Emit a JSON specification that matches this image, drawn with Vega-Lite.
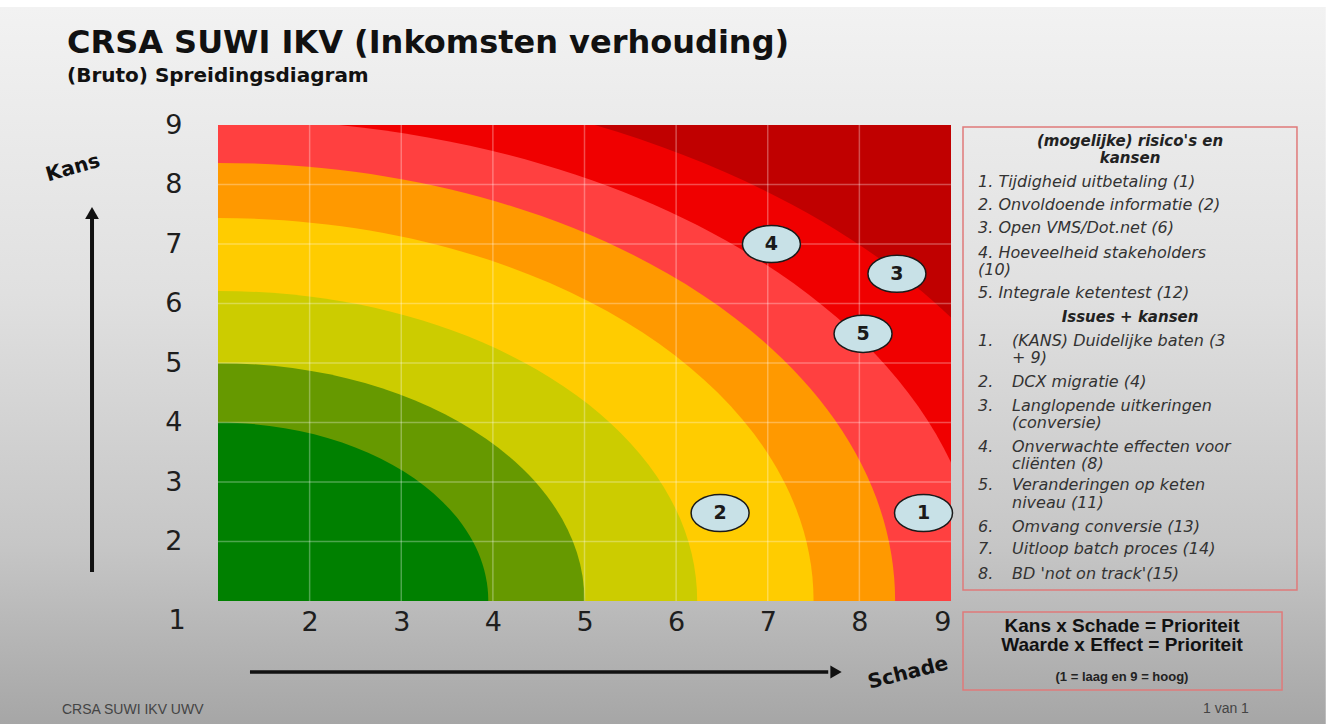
{
  "$schema": "https://vega.github.io/schema/vega-lite/v6.json",
  "width": 733,
  "height": 476,
  "autosize": {"type": "none"},
  "padding": {"left": 218, "top": 125, "right": 379, "bottom": 123},
  "background": "#ffffff",
  "config": {"view": {"stroke": null}},
  "datasets": {
    "dsSlide": [{"x": -1.38, "x2": 13.09, "y": 10.983, "y2": -1.067}],
    "dsPlot": [{"x": 1, "x2": 9, "y": 1, "y2": 9}],
    "dsBands": [
      {"band": "b7", "x": 1, "y": 1, "rx": 9.48},
      {"band": "b6", "x": 1, "y": 1, "rx": 8.35},
      {"band": "b5", "x": 1, "y": 1, "rx": 7.39},
      {"band": "b4", "x": 1, "y": 1, "rx": 6.5},
      {"band": "b3", "x": 1, "y": 1, "rx": 5.23},
      {"band": "b2", "x": 1, "y": 1, "rx": 4.0},
      {"band": "b1", "x": 1, "y": 1, "rx": 2.95}
    ],
    "dsGridV": [
      {"x": 2, "y": 1, "y2": 9}, {"x": 3, "y": 1, "y2": 9}, {"x": 4, "y": 1, "y2": 9}, {"x": 5, "y": 1, "y2": 9},
      {"x": 6, "y": 1, "y2": 9}, {"x": 7, "y": 1, "y2": 9}, {"x": 8, "y": 1, "y2": 9}
    ],
    "dsGridH": [
      {"y": 2, "x": 1, "x2": 9}, {"y": 3, "x": 1, "x2": 9}, {"y": 4, "x": 1, "x2": 9}, {"y": 5, "x": 1, "x2": 9},
      {"y": 6, "x": 1, "x2": 9}, {"y": 7, "x": 1, "x2": 9}, {"y": 8, "x": 1, "x2": 9}
    ],
    "dsArrowV": [{"x": -0.375, "y": 1.487, "y2": 7.45}],
    "dsArrowH": [{"y": -0.193, "x": 1.349, "x2": 7.66}],
    "dsHeadUp": [{"x": -0.375, "y": 7.52}],
    "dsHeadRight": [{"x": 7.745, "y": -0.193}],
    "dsBoxes": [
      {"x": 9.131, "x2": 12.776, "y": 8.966, "y2": 1.185},
      {"x": 9.131, "x2": 12.613, "y": 0.815, "y2": -0.496}
    ],
    "dsRisks": [
      {"id": "1", "x": 8.70, "y": 2.48},
      {"id": "2", "x": 6.48, "y": 2.48},
      {"id": "3", "x": 8.41, "y": 6.50},
      {"id": "4", "x": 7.04, "y": 7.00},
      {"id": "5", "x": 8.04, "y": 5.49}
    ],
    "dsTitle": [{"text": "CRSA SUWI IKV (Inkomsten verhouding)", "x": -0.648, "y": 10.21}],
    "dsSubtitle": [{"text": "(Bruto) Spreidingsdiagram", "x": -0.648, "y": 9.723}],
    "dsLegendHead": [
      {"text": "(mogelijke) risico's en", "x": 10.954, "y": 8.731},
      {"text": "kansen", "x": 10.954, "y": 8.445},
      {"text": "Issues + kansen", "x": 10.954, "y": 5.773}
    ],
    "dsLegendItems": [
      {"text": "1. Tijdigheid uitbetaling (1)", "x": 9.295, "y": 8.042},
      {"text": "2. Onvoldoende informatie (2)", "x": 9.295, "y": 7.655},
      {"text": "3. Open VMS/Dot.net (6)", "x": 9.295, "y": 7.269},
      {"text": "4. Hoeveelheid stakeholders", "x": 9.295, "y": 6.849},
      {"text": "(10)", "x": 9.295, "y": 6.560},
      {"text": "5. Integrale ketentest (12)", "x": 9.295, "y": 6.176},
      {"text": "1.", "x": 9.295, "y": 5.370},
      {"text": "2.", "x": 9.295, "y": 4.681},
      {"text": "3.", "x": 9.295, "y": 4.277},
      {"text": "4.", "x": 9.295, "y": 3.588},
      {"text": "5.", "x": 9.295, "y": 2.950},
      {"text": "6.", "x": 9.295, "y": 2.244},
      {"text": "7.", "x": 9.295, "y": 1.874},
      {"text": "8.", "x": 9.295, "y": 1.454},
      {"text": "(KANS) Duidelijke baten (3", "x": 9.666, "y": 5.370},
      {"text": "+ 9)", "x": 9.666, "y": 5.081},
      {"text": "DCX migratie (4)", "x": 9.666, "y": 4.681},
      {"text": "Langlopende uitkeringen", "x": 9.666, "y": 4.277},
      {"text": "(conversie)", "x": 9.666, "y": 3.988},
      {"text": "Onverwachte effecten voor", "x": 9.666, "y": 3.588},
      {"text": "cliënten (8)", "x": 9.666, "y": 3.300},
      {"text": "Veranderingen op keten", "x": 9.666, "y": 2.950},
      {"text": "niveau (11)", "x": 9.666, "y": 2.644},
      {"text": "Omvang conversie (13)", "x": 9.666, "y": 2.244},
      {"text": "Uitloop batch proces (14)", "x": 9.666, "y": 1.874},
      {"text": "BD 'not on track'(15)", "x": 9.666, "y": 1.454}
    ],
    "dsFormula": [
      {"text": "Kans x  Schade = Prioriteit", "x": 10.866, "y": 0.580},
      {"text": "Waarde x Effect = Prioriteit", "x": 10.866, "y": 0.261}
    ],
    "dsFormulaNote": [{"text": "(1 = laag en 9 = hoog)", "x": 10.866, "y": -0.277}],
    "dsFooter": [
      {"text": "CRSA SUWI IKV UWV", "x": -0.703, "y": -0.832},
      {"text": "1 van 1", "x": 11.75, "y": -0.815}
    ],
    "dsKans": [{"text": "Kans", "x": -0.583, "y": 8.277}],
    "dsSchade": [{"text": "Schade", "x": 8.531, "y": -0.21}],
    "dsCorner": [{"text": "1", "x": 0.553, "y": 0.664}]
  },
  "encoding": {
    "x": {
      "field": "x", "type": "quantitative",
      "scale": {"domain": [1, 9], "nice": false, "zero": false},
      "axis": {"values": [2, 3, 4, 5, 6, 7, 8, 9], "title": null, "domain": false, "ticks": false, "grid": false,
               "labelFont": "DejaVu Sans", "labelFontSize": 27, "labelColor": "#1e1e1e", "labelPadding": 8,
               "labelFlush": true, "zindex": 1}
    },
    "y": {
      "field": "y", "type": "quantitative",
      "scale": {"domain": [1, 9], "nice": false, "zero": false},
      "axis": {"values": [2, 3, 4, 5, 6, 7, 8, 9], "title": null, "domain": false, "ticks": false, "grid": false,
               "labelFont": "DejaVu Sans", "labelFontSize": 27, "labelColor": "#1e1e1e", "labelPadding": 36,
               "labelFlush": false, "zindex": 1}
    }
  },
  "layer": [
    {
      "data": {"name": "dsSlide"},
      "mark": {"type": "rect", "fill": {"gradient": "linear", "x1": 0, "y1": 0, "x2": 0, "y2": 1,
        "stops": [{"offset": 0, "color": "#f2f2f2"}, {"offset": 0.4, "color": "#e0e0e0"}, {"offset": 0.75, "color": "#c6c6c6"}, {"offset": 1, "color": "#a6a6a6"}]}},
      "encoding": {"x2": {"field": "x2"}, "y2": {"field": "y2"}}
    },
    {
      "data": {"name": "dsPlot"},
      "mark": {"type": "rect", "fill": "#c00000"},
      "encoding": {"x2": {"field": "x2"}, "y2": {"field": "y2"}}
    },
    {
      "data": {"name": "dsBands"},
      "mark": {"type": "point", "filled": true, "opacity": 1, "clip": true, "strokeWidth": 0},
      "encoding": {
        "size": {"field": "rx", "type": "quantitative", "scale": {"type": "pow", "exponent": 2, "domain": [0, 10], "range": [0, 3358056]}, "legend": null},
        "shape": {"field": "band", "type": "nominal", "legend": null, "scale": {
          "domain": ["b7", "b6", "b5", "b4", "b3", "b2", "b1"],
          "range": [
            "M-1,0A1,0.608,0,1,0,1,0A1,0.608,0,1,0,-1,0Z",
            "M-1,0A1,0.630,0,1,0,1,0A1,0.630,0,1,0,-1,0Z",
            "M-1,0A1,0.647,0,1,0,1,0A1,0.647,0,1,0,-1,0Z",
            "M-1,0A1,0.643,0,1,0,1,0A1,0.643,0,1,0,-1,0Z",
            "M-1,0A1,0.647,0,1,0,1,0A1,0.647,0,1,0,-1,0Z",
            "M-1,0A1,0.649,0,1,0,1,0A1,0.649,0,1,0,-1,0Z",
            "M-1,0A1,0.660,0,1,0,1,0A1,0.660,0,1,0,-1,0Z"
          ]}},
        "color": {"field": "band", "type": "nominal", "legend": null, "scale": {
          "domain": ["b7", "b6", "b5", "b4", "b3", "b2", "b1"],
          "range": ["#f00000", "#ff4040", "#ff9900", "#ffcc00", "#cccc00", "#669900", "#008000"]}}
      }
    },
    {
      "data": {"name": "dsGridV"},
      "mark": {"type": "rule", "color": "#ffffff", "opacity": 0.3, "strokeWidth": 1.5},
      "encoding": {"y2": {"field": "y2"}}
    },
    {
      "data": {"name": "dsGridH"},
      "mark": {"type": "rule", "color": "#ffffff", "opacity": 0.3, "strokeWidth": 1.5},
      "encoding": {"x2": {"field": "x2"}}
    },
    {
      "data": {"name": "dsArrowV"},
      "mark": {"type": "rule", "color": "#111111", "strokeWidth": 4},
      "encoding": {"y2": {"field": "y2"}}
    },
    {
      "data": {"name": "dsArrowH"},
      "mark": {"type": "rule", "color": "#111111", "strokeWidth": 3.5},
      "encoding": {"x2": {"field": "x2"}}
    },
    {
      "data": {"name": "dsHeadUp"},
      "mark": {"type": "point", "shape": "triangle-up", "filled": true, "opacity": 1, "color": "#111111", "size": 190}
    },
    {
      "data": {"name": "dsHeadRight"},
      "mark": {"type": "point", "shape": "triangle-right", "filled": true, "opacity": 1, "color": "#111111", "size": 170}
    },
    {
      "data": {"name": "dsBoxes"},
      "mark": {"type": "rect", "fill": "transparent", "stroke": "#e07a7a", "strokeWidth": 1.5},
      "encoding": {"x2": {"field": "x2"}, "y2": {"field": "y2"}}
    },
    {
      "data": {"name": "dsTitle"},
      "mark": {"type": "text", "font": "DejaVu Sans", "fontWeight": "bold", "fontSize": 32, "align": "left", "baseline": "alphabetic", "color": "#111111"},
      "encoding": {"text": {"field": "text", "type": "nominal"}}
    },
    {
      "data": {"name": "dsSubtitle"},
      "mark": {"type": "text", "font": "DejaVu Sans", "fontWeight": "bold", "fontSize": 20, "align": "left", "baseline": "alphabetic", "color": "#111111"},
      "encoding": {"text": {"field": "text", "type": "nominal"}}
    },
    {
      "data": {"name": "dsLegendHead"},
      "mark": {"type": "text", "font": "DejaVu Sans", "fontWeight": "bold", "fontStyle": "italic", "fontSize": 15, "align": "center", "baseline": "middle", "color": "#222222"},
      "encoding": {"text": {"field": "text", "type": "nominal"}}
    },
    {
      "data": {"name": "dsLegendItems"},
      "mark": {"type": "text", "font": "DejaVu Sans", "fontStyle": "italic", "fontSize": 16, "align": "left", "baseline": "middle", "color": "#333333"},
      "encoding": {"text": {"field": "text", "type": "nominal"}}
    },
    {
      "data": {"name": "dsFormula"},
      "mark": {"type": "text", "font": "Liberation Sans", "fontWeight": "bold", "fontSize": 19, "align": "center", "baseline": "middle", "color": "#111111"},
      "encoding": {"text": {"field": "text", "type": "nominal"}}
    },
    {
      "data": {"name": "dsFormulaNote"},
      "mark": {"type": "text", "font": "Liberation Sans", "fontWeight": "bold", "fontSize": 13, "align": "center", "baseline": "middle", "color": "#222222"},
      "encoding": {"text": {"field": "text", "type": "nominal"}}
    },
    {
      "data": {"name": "dsFooter"},
      "mark": {"type": "text", "font": "Liberation Sans", "fontSize": 14, "align": "left", "baseline": "middle", "color": "#444444"},
      "encoding": {"text": {"field": "text", "type": "nominal"}}
    },
    {
      "data": {"name": "dsKans"},
      "mark": {"type": "text", "font": "DejaVu Sans", "fontWeight": "bold", "fontSize": 20, "align": "center", "baseline": "middle", "angle": 344, "color": "#111111"},
      "encoding": {"text": {"field": "text", "type": "nominal"}}
    },
    {
      "data": {"name": "dsSchade"},
      "mark": {"type": "text", "font": "DejaVu Sans", "fontWeight": "bold", "fontSize": 20, "align": "center", "baseline": "middle", "angle": 346, "color": "#111111"},
      "encoding": {"text": {"field": "text", "type": "nominal"}}
    },
    {
      "data": {"name": "dsCorner"},
      "mark": {"type": "text", "font": "DejaVu Sans", "fontSize": 27, "align": "center", "baseline": "middle", "color": "#1e1e1e"},
      "encoding": {"text": {"field": "text", "type": "nominal"}}
    },
    {
      "data": {"name": "dsRisks"},
      "mark": {"type": "point", "shape": "M-1,0A1,0.64,0,1,0,1,0A1,0.64,0,1,0,-1,0Z", "size": 3364, "filled": true, "opacity": 1, "fill": "#c8e1e7", "stroke": "#1a1a1a", "strokeWidth": 1.5}
    },
    {
      "data": {"name": "dsRisks"},
      "mark": {"type": "text", "font": "DejaVu Sans", "fontWeight": "bold", "fontSize": 19, "align": "center", "baseline": "middle", "color": "#1a1a1a"},
      "encoding": {"text": {"field": "id", "type": "nominal"}}
    }
  ]
}
